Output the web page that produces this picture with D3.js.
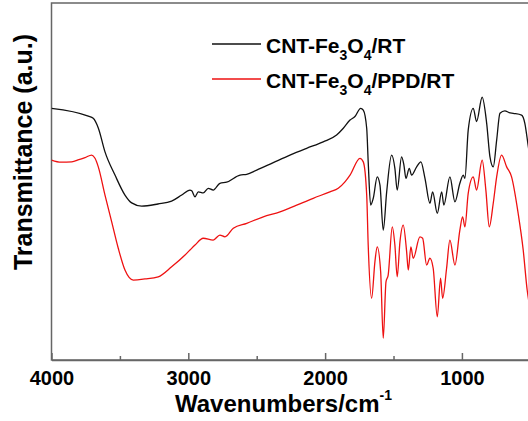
<!DOCTYPE html>
<html>
<head>
<meta charset="utf-8">
<script src="https://cdn.jsdelivr.net/npm/d3@7"></script>
<style>
  body { margin: 0; background: #fff; }
  svg text { font-family: Arial, "Liberation Sans", sans-serif; font-weight: bold; }
</style>
</head>
<body>
<div id="chart"></div>
<script>
// wavenumber (cm-1) and transmittance (a.u.)
var wnRT = [4000, 3731, 3695, 3658, 3609, 3536, 3463, 3414, 3341, 3222, 3122, 3048, 2988, 2975, 2951, 2927, 2891, 2854, 2818, 2769, 2720, 2622, 2573, 2500, 2379, 2257, 2135, 2014, 1916, 1867, 1818, 1782, 1740, 1721, 1696, 1685, 1667, 1648, 1619, 1599, 1575, 1550, 1514, 1490, 1473, 1441, 1424, 1409, 1385, 1368, 1331, 1300, 1270, 1234, 1214, 1180, 1148, 1132, 1088, 1051, 1015, 990, 978, 954, 917, 893, 852, 819, 795, 771, 746, 722, 686, 655, 625, 564, 540, 518, 500];
var tRT = [70.5, 68.3, 67.7, 65.0, 58.3, 51.8, 46.2, 44.0, 43.1, 43.7, 44.5, 46.2, 47.6, 47.4, 45.7, 47.1, 46.8, 48.1, 47.6, 49.5, 49.8, 51.8, 52.0, 53.2, 55.3, 57.4, 59.3, 61.1, 63.0, 64.9, 67.2, 68.2, 70.5, 70.0, 64.9, 55.5, 43.4, 45.3, 51.3, 49.0, 36.4, 47.1, 57.4, 53.7, 47.6, 56.9, 54.6, 50.9, 53.7, 51.8, 54.1, 55.5, 50.9, 43.9, 47.1, 41.1, 47.1, 43.4, 51.3, 44.3, 49.5, 51.8, 50.9, 64.4, 70.5, 66.8, 73.6, 66.3, 56.9, 54.1, 61.6, 69.1, 69.8, 69.3, 69.1, 68.6, 66.3, 60.7, 56.0];

var wnPPD = [4000, 3930, 3852, 3800, 3755, 3706, 3682, 3658, 3609, 3560, 3512, 3463, 3402, 3317, 3220, 3122, 3024, 2988, 2951, 2891, 2818, 2769, 2732, 2671, 2573, 2452, 2330, 2208, 2087, 1965, 1904, 1855, 1818, 1745, 1721, 1696, 1685, 1660, 1636, 1619, 1594, 1575, 1555, 1539, 1509, 1490, 1473, 1453, 1429, 1404, 1392, 1373, 1356, 1307, 1287, 1258, 1234, 1210, 1180, 1156, 1141, 1112, 1088, 1051, 1015, 995, 978, 954, 917, 893, 852, 825, 800, 771, 746, 710, 673, 637, 589, 552, 523, 500];
var tPPD = [56.0, 55.4, 55.5, 56.1, 56.7, 57.4, 56.5, 54.1, 46.2, 38.7, 31.3, 25.2, 22.4, 22.7, 23.3, 26.1, 29.4, 30.8, 32.2, 34.1, 33.6, 35.0, 34.5, 36.9, 38.3, 40.1, 41.5, 43.4, 45.3, 47.1, 48.1, 49.9, 51.8, 56.5, 55.5, 46.2, 32.2, 17.3, 27.5, 31.7, 24.7, 6.1, 21.9, 23.8, 37.3, 32.2, 23.3, 33.1, 37.8, 30.3, 25.2, 31.7, 28.5, 34.5, 34.1, 26.6, 28.5, 25.7, 12.1, 22.9, 17.3, 25.7, 33.6, 26.6, 36.4, 40.1, 37.3, 46.7, 51.3, 47.6, 56.0, 47.6, 37.3, 43.9, 51.3, 57.4, 54.1, 51.3, 41.1, 30.8, 19.6, 14.0];

var seriesColors = ["#111111", "#ee1111"];
var majorTicks = [4000, 3000, 2000, 1000];
var minorTicks = [3500, 2500, 1500];

var W = 528, H = 421;
var svg = d3.select("#chart").append("svg").attr("width", W).attr("height", H);

var x = d3.scaleLinear().domain([4000, 400]).range([51.5, 544]);
var y = d3.scaleLinear().domain([0, 100]).range([360, 3]);

svg.append("clipPath").attr("id", "clip")
  .append("rect").attr("x", x(4000)).attr("y", y(100)).attr("width", x(400) - x(4000)).attr("height", y(0) - y(100));

// frame
svg.append("rect")
  .attr("x", x(4000)).attr("y", y(100))
  .attr("width", x(400) - x(4000)).attr("height", y(0) - y(100))
  .attr("fill", "none").attr("stroke", "#666").attr("stroke-width", 1.5);

// bottom axis, ticks inward
var ax = svg.append("g").attr("transform", "translate(0," + y(0) + ")")
  .call(d3.axisBottom(x).tickValues(majorTicks).tickSizeInner(-7).tickSizeOuter(0).tickPadding(11).tickFormat(d3.format("d")));
ax.select(".domain").attr("stroke", "#666").attr("stroke-width", 1.5);
ax.selectAll(".tick line").attr("stroke", "#666").attr("stroke-width", 1.5);
ax.selectAll(".tick text").attr("font-size", 20).attr("fill", "#000");

svg.append("g").attr("transform", "translate(0," + y(0) + ")")
  .call(d3.axisBottom(x).tickValues(minorTicks).tickSizeInner(-4).tickSizeOuter(0).tickFormat(""))
  .call(function (g) { g.select(".domain").remove(); })
  .selectAll(".tick line").attr("stroke", "#666").attr("stroke-width", 1.5);

var line = d3.line()
  .curve(d3.curveMonotoneX)
  .x(function (d) { return x(d[0]); })
  .y(function (d) { return y(d[1]); });
var data = [d3.zip(wnRT, tRT), d3.zip(wnPPD, tPPD)];

svg.append("g").attr("clip-path", "url(#clip)")
  .selectAll("path")
  .data(data)
  .join("path")
  .attr("d", line)
  .attr("fill", "none")
  .attr("stroke", function (d, i) { return seriesColors[i]; })
  .attr("stroke-width", 1.3)
  .attr("stroke-linejoin", "round");

// legend
var leg = svg.append("g");
[44, 79].forEach(function (ly, i) {
  leg.append("line").attr("x1", 212).attr("x2", 261).attr("y1", ly).attr("y2", ly)
    .attr("stroke", seriesColors[i]).attr("stroke-width", 1.3);
  var t = leg.append("text").attr("x", 266).attr("y", ly + 9).attr("font-size", 21).attr("fill", "#000");
  t.append("tspan").text("CNT-Fe");
  t.append("tspan").attr("font-size", 14).attr("dy", 7).text("3");
  t.append("tspan").attr("dy", -7).text("O");
  t.append("tspan").attr("font-size", 14).attr("dy", 7).text("4");
  t.append("tspan").attr("dy", -7).text(i === 0 ? "/RT" : "/PPD/RT");
});

// axis titles
var xt = svg.append("text").attr("x", 175).attr("y", 412).attr("font-size", 24).attr("fill", "#000");
xt.append("tspan").text("Wavenumbers/cm");
xt.append("tspan").attr("font-size", 14).attr("dy", -12).text("-1");

svg.append("text")
  .attr("transform", "translate(32,152) rotate(-90)")
  .attr("text-anchor", "middle")
  .attr("font-size", 25)
  .attr("fill", "#000")
  .text("Transmittance (a.u.)");
</script>
</body>
</html>
